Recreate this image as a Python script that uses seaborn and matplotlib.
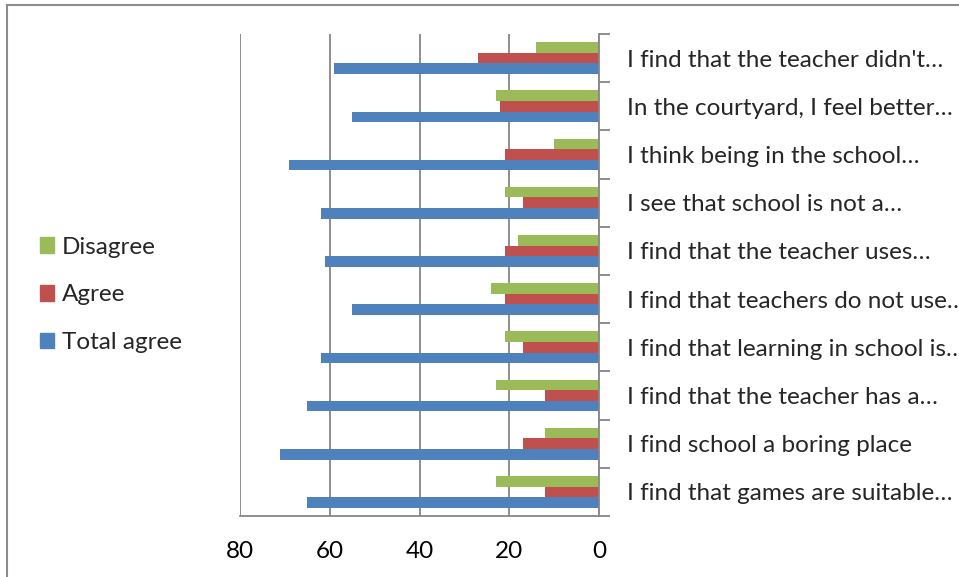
import pandas as pd
import numpy as np
import matplotlib
matplotlib.use("Agg")
import matplotlib.pyplot as plt
import seaborn as sns
from matplotlib.patches import Rectangle

# Données (de haut en bas)
categories = [
    "I find that the teacher didn't…",
    "In the courtyard, I feel better…",
    "I think being in the school…",
    "I see that school is not a…",
    "I find that the teacher uses…",
    "I find that teachers do not use…",
    "I find that learning in school is…",
    "I find that the teacher has a…",
    "I find school a boring place",
    "I find that games are suitable…",
]
disagree = [14, 23, 10, 21, 18, 24, 21, 23, 12, 23]
agree = [27, 22, 21, 17, 21, 21, 17, 12, 17, 12]
total_agree = [59, 55, 69, 62, 61, 55, 62, 65, 71, 65]
series = ["Disagree", "Agree", "Total agree"]
couleurs = ["#9BBB59", "#C0504D", "#4F81BD"]

df = pd.DataFrame({
    "categorie": categories * 3,
    "serie": np.repeat(series, len(categories)),
    "valeur": disagree + agree + total_agree,
})

sns.set_style("white")
plt.rcParams["font.family"] = ["Lato", "DejaVu Sans"]

W, H = 959, 577
fs = 17.5
fig = plt.figure(figsize=(W / 100, H / 100), dpi=100)
ax = fig.add_axes([240 / W, (H - 516) / H, (599 - 240) / W, (516 - 34) / H])

sns.barplot(data=df, x="valeur", y="categorie", hue="serie", hue_order=series,
            palette=couleurs, orient="h", width=0.66, gap=0, saturation=1,
            linewidth=0, order=categories, ax=ax, legend=False)

ax.set_xlim(80, 0)
ax.set_ylim(len(categories) - 0.5, -0.5)
ax.set_xlabel("")
ax.set_ylabel("")

# Grille verticale
ax.set_xticks([0, 20, 40, 60, 80])
ax.grid(axis="x", color="#868686", linewidth=1.3)
ax.set_axisbelow(True)

# Axes
for s in ["top", "left"]:
    ax.spines[s].set_visible(False)
for s in ["bottom", "right"]:
    ax.spines[s].set_color("#868686")
    ax.spines[s].set_linewidth(1.3)

ax.tick_params(axis="x", direction="out", length=8, width=1.3, color="#868686",
               labelsize=fs, pad=10, labelcolor="black")
ax.yaxis.tick_right()
ax.set_yticks(range(len(categories)))
ax.set_yticks(np.arange(-0.5, len(categories)), minor=True)
ax.tick_params(axis="y", which="major", length=0, labelsize=fs, pad=20)
ax.tick_params(axis="y", which="minor", direction="out", length=8, width=1.3, color="#868686")

# Légende à gauche
handles = [Rectangle((0, 0), 1, 1, color=c) for c in couleurs]
fig.legend(handles, series, loc="upper left", bbox_to_anchor=(30 / W, 1 - 227 / H),
           frameon=False, fontsize=fs, handlelength=0.6, handleheight=0.6,
           handletextpad=0.3, labelspacing=1.1, borderaxespad=0)

# Cadre extérieur
fig.add_artist(Rectangle((7 / W, -0.1), 1.2, 1 - 5 / H + 0.1, transform=fig.transFigure,
                         fill=False, edgecolor="#8c8c8c", linewidth=1.5))

fig.savefig("out.png", dpi=100)
